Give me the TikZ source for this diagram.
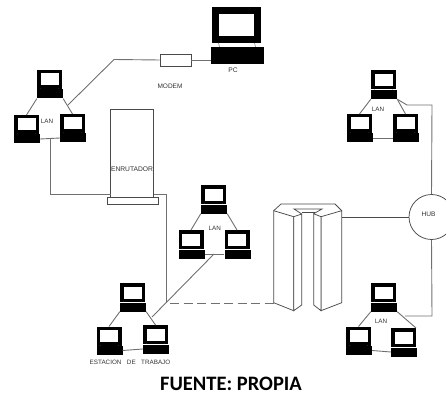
\documentclass[tikz,border=0pt]{standalone}
\usepackage{fontspec}
\setmainfont{Liberation Sans}
\newfontfamily\capfont{Carlito}
\definecolor{wire}{HTML}{707070}
\definecolor{cad}{HTML}{4a4a4a}
\definecolor{labelc}{HTML}{333333}
\tikzset{
  monitor/.style={draw=black,fill=white,line width=3.5pt,minimum width=21.5pt,minimum height=15.5pt,inner sep=0pt},
  keyboard/.style={draw=none,fill=black,minimum width=26pt,minimum height=9pt,inner sep=0pt},
  bigmonitor/.style={draw=black,fill=white,line width=7pt,minimum width=42pt,minimum height=29pt,inner sep=0pt},
  bigkeyboard/.style={draw=none,fill=black,minimum width=53pt,minimum height=17pt,inner sep=0pt},
  wirel/.style={draw=wire,line width=0.9pt},
  cadl/.style={draw=cad,line width=0.75pt},
  boxl/.style={draw=cad,fill=white,line width=0.75pt,inner sep=0pt},
  lab/.style={text=labelc,inner sep=0pt,font=\fontsize{6.3}{7}\selectfont},
  neck/.style={draw=wire,line width=0.5pt}
}
\newcommand{\comp}[3]{%
  \node[monitor] (#1m) at (#2-0.5,#3-14.5) {};
  \node[keyboard] (#1k) at (#2,#3) {};
  \draw[neck] ([xshift=-9pt]#1m.south) -- ([xshift=-9pt,yshift=0.5pt]#1k.north);
  \draw[neck] ([xshift=9pt]#1m.south) -- ([xshift=9pt,yshift=0.5pt]#1k.north);
}
\begin{document}
\begin{tikzpicture}[x=1pt,y=-1pt]
\useasboundingbox (0,0) rectangle (446,395);
% computers
\comp{a1}{50}{94}\comp{a2}{27}{139}\comp{a3}{73}{138}
\comp{b1}{384}{94.5}\comp{b2}{360}{138}\comp{b3}{406}{138}
\comp{c1}{214}{209}\comp{c2}{191.5}{254}\comp{c3}{237.5}{254}
\comp{d1}{133}{307}\comp{d2}{109.5}{350.5}\comp{d3}{156}{349}
\comp{e1}{384}{307}\comp{e2}{359}{350.5}\comp{e3}{404}{352}
% PC
\node[bigmonitor] (pcm) at (236.5,25) {};
\node[bigkeyboard] (pck) at (237.5,55.5) {};
\draw[neck] ([xshift=-18pt]pcm.south) -- ([xshift=-18pt]pck.north);
\draw[neck] ([xshift=18pt]pcm.south) -- ([xshift=18pt]pck.north);
% modem, router, hub
\node[boxl,minimum width=31pt,minimum height=12pt] (modem) at (175.5,60) {};
\node[boxl,minimum width=43pt,minimum height=89pt] (router) at (132,153.5) {};
\node[boxl,minimum width=51pt,minimum height=7pt] (rbase) at (132.5,201) {};
\node[draw=cad,fill=white,line width=0.75pt,circle,minimum size=45pt,inner sep=0pt] (hub) at (431.5,217) {};
% named free ends
\coordinate (bendmodem) at (114,59.5);
\coordinate (a1tap) at (68,105);
\coordinate (a2tap) at (50,139);
\coordinate (rl) at (110.5,194);
\coordinate (rr) at (153.5,194);
\coordinate (rbend) at (166,194);
\coordinate (rdown) at (166,303);
\coordinate (c2tap) at (214,254);
\coordinate (d3tap) at (152,317);
\coordinate (dashs) at (170,303);
\coordinate (servl) at (273.7,303);
\coordinate (servr) at (341.7,217.5);
% LAN links
\foreach \n in {a,b,c,d,e}{
  \draw[wirel] (\n 1k.south west) -- (\n 2m.north);
  \draw[wirel] (\n 2k.east) -- (\n 3k.west);
}
\draw[wirel] (a1k.south east) -- (a3m.north);
\draw[wirel] (b1k.south east) -- (b3m.north);
\draw[wirel] (c1k.south east) -- (c3m.north);
\draw[wirel] (d1k.south east) -- (d3m.north);
\draw[wirel] (e1k.south east) -- (e3m.north east);
% long links
\draw[wirel] (a1tap) -- (bendmodem) -- (modem.west);
\draw[wirel] (modem.east) -- (pck.west |- modem.east);
\draw[wirel] (a2tap) -- (a2tap |- rl) -- (rl);
\draw[wirel] (rr) -- (rbend) -- (rdown);
\draw[wirel] (d3tap) -- (c2tap);
\draw[wirel,dash pattern=on 9pt off 4.5pt,line width=1pt] (dashs) -- (servl);
\draw[wirel] (hub.north) -- (432,105) -- (407,105) -- (b1k.south east);
\draw[wirel] (hub.south) -- (432,316) -- (405,316);
\draw[cadl] (servr) -- (hub.west |- servr);
% server
\draw[cadl,fill=white] (273.7,210.7) -- (293.7,216.7) -- (293.7,310.7) -- (273.7,302.7) -- cycle;
\draw[cadl,fill=white] (293.7,216.7) -- (301.7,214) -- (301.7,305) -- (293.7,310.7) -- cycle;
\draw[cadl,fill=white] (341.7,210.7) -- (321,216.7) -- (321,310.7) -- (341.7,302.7) -- cycle;
\draw[cadl,fill=white] (321,216.7) -- (313.7,213.7) -- (313.7,305) -- (321,310.7) -- cycle;
\draw[cadl] (273.7,210.7) -- (281,204) -- (335,204) -- (341.7,210.7);
\draw[cadl] (301.7,214) -- (294,209) -- (322,209) -- (313.7,213.7);
\draw[cadl] (301.7,212) -- (314.5,212);
% labels
\node[lab] (l1) at (47,121) {LAN};
\node[lab] (l2) at (378,109) {LAN};
\node[lab] (l3) at (214.7,228) {LAN};
\node[lab] (l4) at (381,321) {LAN};
\node[lab,font=\fontsize{6.5}{7}\selectfont] (lm) at (170,86) {MODEM};
\node[lab,font=\fontsize{6.7}{7}\selectfont] (lr) at (132,169) {ENRUTADOR};
\node[lab,font=\fontsize{6.7}{7}\selectfont] (lp) at (233,70) {PC};
\node[lab,font=\fontsize{6.6}{7}\selectfont] (lh) at (428.5,214.5) {HUB};
\node[lab] (le) at (130,362) {ESTACION\hspace{5.5pt}DE\hspace{5.5pt}TRABAJO};
\node[inner sep=0pt,text=black,font=\capfont\bfseries\fontsize{20.5}{22}\selectfont] (cap) at (231,383.5) {FUENTE: PROPIA};
\end{tikzpicture}
\end{document}
